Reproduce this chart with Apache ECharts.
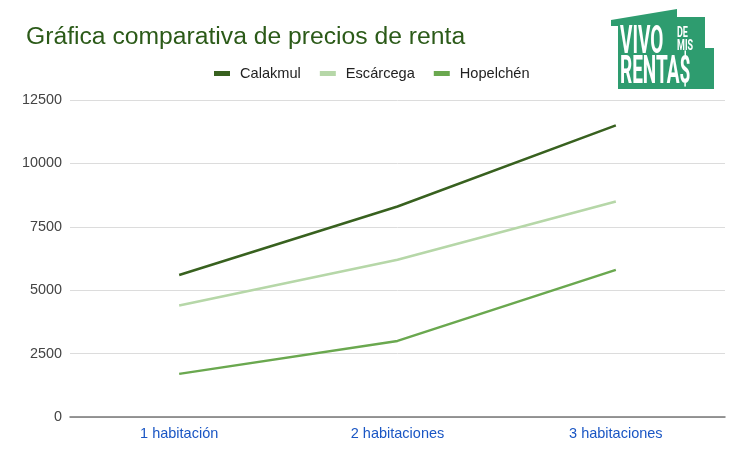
<!DOCTYPE html>
<html><head><meta charset="utf-8">
<script src="https://cdn.jsdelivr.net/npm/echarts@6/dist/echarts.min.js"></script>
<style>html,body{margin:0;padding:0;background:#fff}#c{width:745px;height:454px}</style>
</head><body><div id="c"></div>
<script>
const categories = ['1 habitación', '2 habitaciones', '3 habitaciones'];
const calakmul = [5600, 8300, 11500];
const escarcega = [4400, 6200, 8500];
const hopelchen = [1700, 3000, 5800];
const seriesNames = ['Calakmul', 'Escárcega', 'Hopelchén'];
const colors = ['#38611f', '#b6d7a8', '#6aa84f'];

const F = 'Arial, "Liberation Sans", sans-serif';
const chart = echarts.init(document.getElementById('c'));
const mk = (name, data, color) => ({
  name, type: 'line', data, symbol: 'none', smooth: false,
  lineStyle: { width: 2.5, color }, itemStyle: { color }
});
chart.setOption({
  animation: false,
  title: { text: 'Gráfica comparativa de precios de renta', left: 21, top: 20,
    textStyle: { fontFamily: F, fontSize: 24.7, fontWeight: 'normal', color: '#2b5a18' } },
  legend: { top: 61, left: 209, itemWidth: 16, itemHeight: 5, itemGap: 19,
    icon: 'rect',
    textStyle: { fontFamily: F, fontSize: 14.6, color: '#222', padding: [0, 0, 0, 5] },
    data: seriesNames },
  grid: { left: 70, right: 20, top: 100, bottom: 37 },
  xAxis: { type: 'category', data: categories, boundaryGap: true,
    axisTick: { show: false },
    axisLine: { lineStyle: { color: '#777', width: 1.5 } },
    axisLabel: { color: '#1a56c4', fontFamily: F, fontSize: 14.5, margin: 9 } },
  yAxis: { type: 'value', min: 0, max: 12500, interval: 2500,
    axisLine: { show: false }, axisTick: { show: false },
    splitLine: { lineStyle: { color: '#dcdcdc', width: 1 } },
    axisLabel: { color: '#444', fontFamily: F, fontSize: 14.4, margin: 8, formatter: v => String(v) } },
  series: [mk(seriesNames[0], calakmul, colors[0]), mk(seriesNames[1], escarcega, colors[1]), mk(seriesNames[2], hopelchen, colors[2])],
  graphic: [
    { type: 'polygon', shape: { points: [[611,20],[677,9],[677,17],[705,17],[705,48],[714,48],[714,89],[618,89],[618,26],[611,26]] },
      style: { fill: '#2e9c6f' } },
    { type: 'text', x: 620, y: 24, scaleX: 0.5, style: { text: 'VIVO', fill: '#fff', font: 'bold 38px Roboto, Arial' } },
    { type: 'text', x: 677, y: 26, scaleX: 0.6, style: { text: 'DE', fill: '#fff', font: 'bold 15px Roboto, Arial' } },
    { type: 'text', x: 677, y: 39, scaleX: 0.6, style: { text: 'MIS', fill: '#fff', font: 'bold 15px Roboto, Arial' } },
    { type: 'text', x: 620, y: 54, scaleX: 0.5, style: { text: 'RENTA$', fill: '#fff', font: 'bold 38px Roboto, Arial' } }
  ]
});
</script></body></html>
